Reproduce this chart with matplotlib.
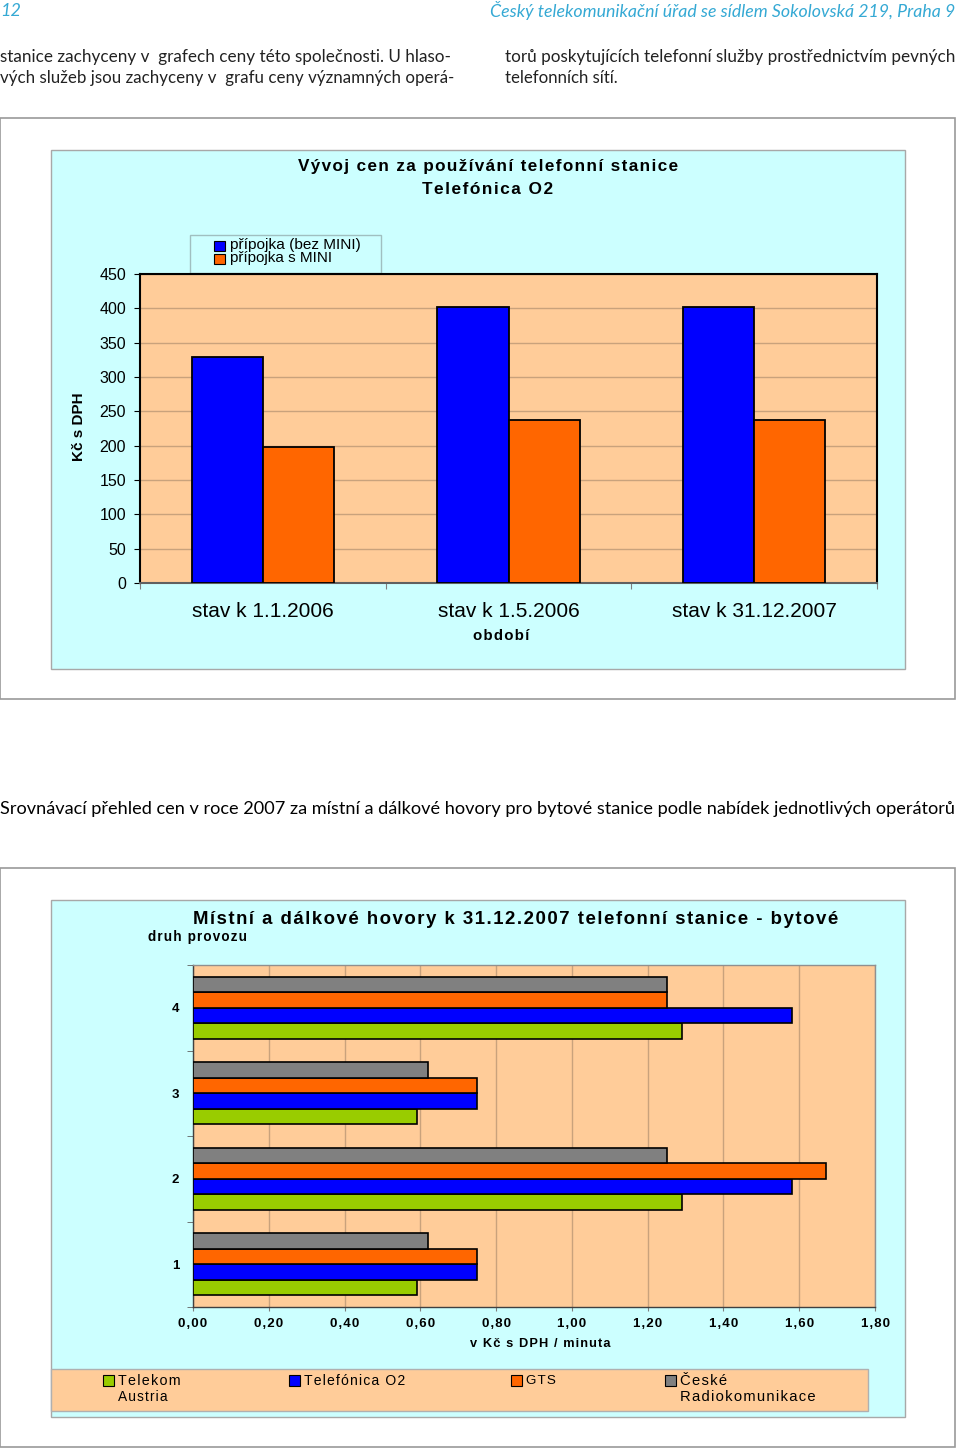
import matplotlib
matplotlib.use("Agg")
import matplotlib.pyplot as plt
from matplotlib.patches import Rectangle
import numpy as np

# ---------------- data ----------------
periods = ["stav k 1.1.2006", "stav k 1.5.2006", "stav k 31.12.2007"]
bez_mini = [329, 402, 402]
s_mini = [198, 237, 237]
series1_names = ["přípojka (bez MINI)", "přípojka s MINI"]

druh = ["1", "2", "3", "4"]
telekom_austria = [0.59, 1.29, 0.59, 1.29]
telefonica_o2 = [0.75, 1.58, 0.75, 1.58]
gts = [0.75, 1.67, 0.75, 1.25]
ceske_radiokom = [0.62, 1.25, 0.62, 1.25]
x2_ticks = [0.0, 0.2, 0.4, 0.6, 0.8, 1.0, 1.2, 1.4, 1.6, 1.8]

# ---------------- style ----------------
CYAN = "#CCFFFF"
PEACH = "#FFCC99"
BLUE = "#0000FF"
ORANGE = "#FF6600"
GREEN = "#99CC00"
GRAY = "#808080"
GRID = "#C9A27C"
HEAD = "#35A9D4"
AR = ["Liberation Sans", "DejaVu Sans"]
BODY = ["Lato", "DejaVu Sans"]
HS = "\u200a"

W, H = 960, 1449
fig = plt.figure(figsize=(W / 100, H / 100), dpi=100)
fig.patch.set_facecolor("white")
renderer = fig.canvas.get_renderer()


def fx(x):
    return x / W


def fy(y):
    return 1 - y / H


def sp(s, n=1):
    return (HS * n).join(s)


def rect(x0, y0, x1, y1, fc, ec, lw=1.0, z=-1):
    r = Rectangle((fx(x0), fy(y1)), (x1 - x0) / W, (y1 - y0) / H,
                  transform=fig.transFigure, facecolor=fc, edgecolor=ec,
                  linewidth=lw, zorder=z)
    fig.add_artist(r)


def text(x, y, s, size, ha="left", va="center", width=None, **kw):
    kw.setdefault("family", AR)
    t = fig.text(fx(x), fy(y), s, fontsize=size, ha=ha, va=va, **kw)
    if width is not None:
        w = t.get_window_extent(renderer).width
        t.set_fontsize(size * width / w)
    return t


# ---------------- page text ----------------
text(0, 11, "12", 13, style="italic", color=HEAD, family=BODY)
text(955, 11, "Český telekomunikační úřad se sídlem Sokolovská 219, Praha 9", 13,
     ha="right", style="italic", color=HEAD, family=BODY, width=463)
text(0, 57, "stanice zachyceny v  grafech ceny této společnosti. U hlaso-", 13,
     width=450, family=BODY, color="#222222")
text(0, 78, "vých služeb jsou zachyceny v  grafu ceny významných operá-", 13,
     width=450, family=BODY, color="#222222")
text(505, 57, "torů poskytujících telefonní služby prostřednictvím pevných", 13,
     width=448, family=BODY, color="#222222")
text(505, 78, "telefonních sítí.", 13, width=113, family=BODY, color="#222222")
text(0, 809, "Srovnávací přehled cen v roce 2007 za místní a dálkové hovory pro bytové stanice podle nabídek jednotlivých operátorů",
     14, width=963, family=BODY, color="black")

# ---------------- chart 1 ----------------
rect(0, 118, 955, 699, "white", "#9A9A9A", 1.2)
rect(51, 150, 905, 669, CYAN, "#A8A8A8", 1.0)
text(488, 166, sp("Vývoj cen za používání telefonní stanice"), 12, ha="center",
     weight="bold", width=381)
text(488, 189, sp("Telefónica O2"), 12, ha="center", weight="bold", width=129)

ax1 = fig.add_axes([fx(140), fy(583), 737 / W, 309 / H])
ax1.set_facecolor(PEACH)
x = np.arange(len(periods))
bw = 0.29
ax1.bar(x - bw / 2, bez_mini, bw, color=BLUE, edgecolor="black", linewidth=1.3, zorder=3)
ax1.bar(x + bw / 2, s_mini, bw, color=ORANGE, edgecolor="black", linewidth=1.3, zorder=3)
ax1.set_xlim(-0.5, len(periods) - 0.5)
ax1.set_ylim(0, 450)
ax1.set_yticks(np.arange(0, 451, 50))
ax1.yaxis.grid(True, color=GRID, linewidth=1.0, zorder=0)
ax1.set_axisbelow(True)
ax1.tick_params(axis="y", length=4, width=0.8, direction="out", pad=6,
                labelsize=11.5, colors="black")
for lab in ax1.get_yticklabels():
    lab.set_family(AR)
ax1.set_xticks(x)
ax1.set_xticklabels(periods, fontsize=15, family=AR)
ax1.tick_params(axis="x", which="major", length=0, pad=14)
ax1.set_xticks(np.arange(-0.5, len(periods), 1.0), minor=True)
ax1.tick_params(axis="x", which="minor", length=4, width=0.8, color="#808080")
for s in ax1.spines.values():
    s.set_color("black")
    s.set_linewidth(1.5)
ax1.spines["bottom"].set_color("#606060")

text(501, 636, sp("období"), 10.5, ha="center", weight="bold", width=57)
text(79, 427, "Kč s DPH", 11, ha="center", weight="bold", rotation=90)

# legend 1
rect(190, 235, 381, 273, CYAN, "#A0BFC0", 1.0)
rect(214, 241, 225, 251, BLUE, "black", 0.8, z=2)
rect(214, 254, 225, 264, ORANGE, "black", 0.8, z=2)
text(230, 245, series1_names[0], 10, width=131)
text(230, 258, series1_names[1], 10, width=102)

# ---------------- chart 2 ----------------
rect(0, 868, 955, 1447, "white", "#9A9A9A", 1.2)
rect(51, 900, 905, 1417, CYAN, "#A8A8A8", 1.0)
text(193, 920, sp("Místní a dálkové hovory k 31.12.2007 telefonní stanice - bytové"), 12,
     weight="bold", width=645)
text(148, 937, sp("druh provozu"), 8, weight="bold", width=99)

ax2 = fig.add_axes([fx(193), fy(1307), 682 / W, 342 / H])
ax2.set_facecolor(PEACH)
y = np.arange(1, len(druh) + 1)
bh = 0.18
ax2.barh(y - 1.5 * bh, telekom_austria, bh, color=GREEN, edgecolor="black", linewidth=1.2, zorder=3)
ax2.barh(y - 0.5 * bh, telefonica_o2, bh, color=BLUE, edgecolor="black", linewidth=1.2, zorder=3)
ax2.barh(y + 0.5 * bh, gts, bh, color=ORANGE, edgecolor="black", linewidth=1.2, zorder=3)
ax2.barh(y + 1.5 * bh, ceske_radiokom, bh, color=GRAY, edgecolor="black", linewidth=1.2, zorder=3)
ax2.set_ylim(0.5, len(druh) + 0.5)
ax2.set_xlim(0, 1.8)
ax2.set_xticks(x2_ticks)
ax2.set_xticklabels([sp(f"{v:.2f}".replace(".", ",")) for v in x2_ticks],
                    fontsize=9.5, weight="bold", family=AR)
ax2.xaxis.grid(True, color=GRID, linewidth=1.0, zorder=0)
ax2.set_axisbelow(True)
ax2.tick_params(axis="x", length=3, color="#808080", pad=5)
ax2.set_yticks(y)
ax2.set_yticklabels(druh, fontsize=9.5, weight="bold", family=AR)
ax2.tick_params(axis="y", which="major", length=0, pad=10)
ax2.set_yticks(np.arange(0.5, len(druh) + 0.6, 1.0), minor=True)
ax2.tick_params(axis="y", which="minor", length=4, color="#606060")
for s in ax2.spines.values():
    s.set_color("#909090")
    s.set_linewidth(1.0)
ax2.spines["left"].set_color("#404040")
ax2.spines["bottom"].set_color("#404040")

text(540, 1344, sp("v Kč s DPH / minuta"), 9, ha="center", weight="bold", width=140)

# legend 2
rect(51, 1369, 868, 1411, PEACH, "#B0B0B0", 1.0)
leg2 = [
    (103, ["Telekom", "Austria"], GREEN, [62, 50]),
    (289, ["Telefónica O2"], BLUE, [102]),
    (511, ["GTS"], ORANGE, [30]),
    (665, ["České", "Radiokomunikace"], GRAY, [47, 135]),
]
for x0, lines, col, widths in leg2:
    rect(x0, 1375, x0 + 11, 1386, col, "black", 0.8, z=2)
    for i, (ln, wd) in enumerate(zip(lines, widths)):
        text(x0 + 15, 1381 + 16 * i, sp(ln), 9.5, width=wd)

fig.savefig("out.png", dpi=100, facecolor="white")
